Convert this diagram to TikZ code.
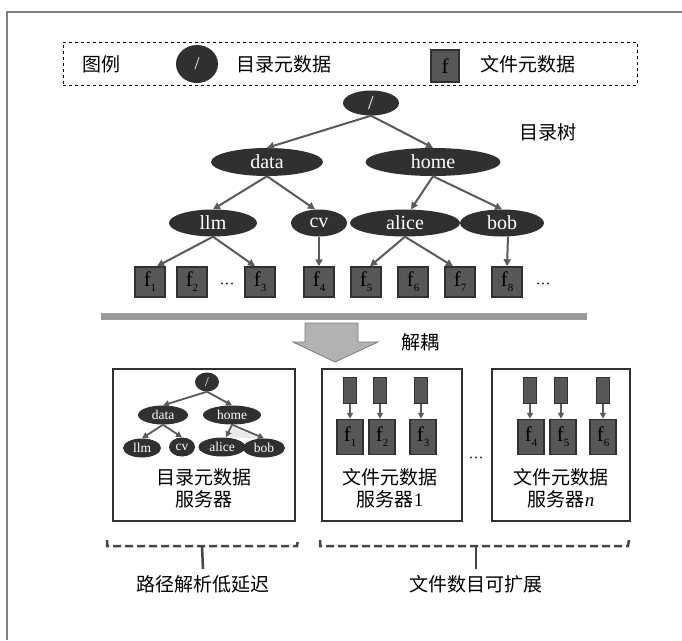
\documentclass[tikz,border=0pt]{standalone}
\usepackage{fontspec}
\setmainfont{Liberation Serif}
\newfontfamily\cjk{Noto Sans CJK SC}
\usetikzlibrary{shapes.geometric,arrows.meta,calc}
\definecolor{dark}{HTML}{303030}
\definecolor{fgray}{HTML}{575757}
\definecolor{egray}{HTML}{5A5A5A}
\definecolor{bargray}{HTML}{9A9A9A}
\definecolor{arrgray}{HTML}{B2B2B2}
\newcommand{\fsub}[1]{f{\fontsize{11}{11}\selectfont\raisebox{-5pt}{#1}}}
\newcommand{\mydots}{\tikz[baseline]{\foreach \i in {0,5,10} \fill (\i pt,2pt) circle (1.1pt);}}
\begin{document}
\begin{tikzpicture}[x=1pt,y=-1pt,
  dir/.style={ellipse, fill=dark, text=white, inner sep=0pt, minimum height=28, font=\fontsize{20}{20}\selectfont},
  sdir/.style={ellipse, fill=dark, text=white, inner sep=0pt, minimum height=19, font=\fontsize{13.5}{13.5}\selectfont},
  fbox/.style={draw=dark, line width=1.5pt, fill=fgray, minimum width=30, minimum height=30, inner sep=0pt, font=\fontsize{21}{21}\selectfont},
  sfbox/.style={draw=dark, line width=1.5pt, fill=fgray, minimum width=26, minimum height=35, inner sep=0pt, font=\fontsize{21}{21}\selectfont},
  urect/.style={draw=dark, line width=1pt, fill=fgray, minimum width=13, minimum height=26, inner sep=0pt},
  edge/.style={draw=egray, line width=2pt, -{Triangle[length=7pt,width=7pt]}},
  sedge/.style={draw=egray, line width=1.8pt, -{Triangle[length=6pt,width=6pt]}},
  srv/.style={draw=dark, line width=2.2pt, inner sep=0pt},
  lab/.style={font=\cjk\fontsize{19}{22}\selectfont, align=center, inner sep=0pt},
  brk/.style={draw=dark!90, line width=2.5pt, dash pattern=on 8pt off 4pt},
  dots/.style={inner sep=0pt, text=dark}
]
\useasboundingbox (0,0) rectangle (682,640);
\fill[white] (0,0) rectangle (682,640);
\draw[gray, line width=1.2pt] (7,640) -- (7,12) -- (682,12);

% legend
\node[draw=black, dashed, line width=1pt, minimum width=574, minimum height=43, inner sep=0pt] (legend) at (350,63.5) {};
\node[lab] (lgt) at (101,64) {图例};
\node[ellipse, fill=dark, text=white, minimum width=42, minimum height=38, inner sep=0pt, font=\fontsize{18}{18}\selectfont] (lgd) at (197,64) {/};
\node[lab] (lgdt) at (284,64) {目录元数据};
\node[fbox, minimum width=28, minimum height=32] (lgf) at (445,66) {f};
\node[lab] (lgft) at (528,64) {文件元数据};

% tree
\node[dir, minimum width=56, minimum height=25] (root) at (371,103) {/};
\node[dir, minimum width=112] (data) at (267,162) {data};
\node[dir, minimum width=135] (home) at (433,162) {home};
\node[dir, minimum width=88, minimum height=27] (llm) at (213,223) {llm};
\node[dir, minimum width=56, minimum height=27] (cv) at (319,223) {cv};
\node[dir, minimum width=110, minimum height=27] (alice) at (405,223) {alice};
\node[dir, minimum width=84, minimum height=27] (bob) at (502,223) {bob};
\node[lab] (tree) at (548,132) {目录树};

\node[fbox] (f1) at (150,282) {\fsub{1}};
\node[fbox] (f2) at (192,282) {\fsub{2}};
\node[dots] (d1) at (227,284) {\mydots};
\node[fbox] (f3) at (260,282) {\fsub{3}};
\node[fbox] (f4) at (319,282) {\fsub{4}};
\node[fbox] (f5) at (366,282) {\fsub{5}};
\node[fbox] (f6) at (413,282) {\fsub{6}};
\node[fbox] (f7) at (460,282) {\fsub{7}};
\node[fbox] (f8) at (507,282) {\fsub{8}};
\node[dots] (d2) at (543,284) {\mydots};

\draw[edge] (root.south) -- (data.north);
\draw[edge] (root.south) -- (home.north);
\draw[edge] (data.south) -- (llm.north);
\draw[edge] (data.south) -- ([xshift=-4]cv.north);
\draw[edge] (home.south) -- ([xshift=6]alice.north);
\draw[edge] (home.south) -- (bob.north);
\draw[edge] (llm.south) -- ([xshift=7]f1.north);
\draw[edge] (llm.south) -- ([xshift=-5]f3.north);
\draw[edge] (cv.south) -- (f4.north);
\draw[edge] (alice.south) -- ([xshift=4]f5.north);
\draw[edge] (alice.south) -- ([xshift=-7]f7.north);
\draw[edge] ([xshift=6]bob.south) -- (f8.north);

% bar and arrow
\fill[bargray] (101,313) rectangle (587,320);
\draw[bargray!80!black, line width=0.8pt, fill=arrgray] (305,323) -- (358,323) -- (358,342) -- (378,342) -- (335,362) -- (293,342) -- (305,342) -- cycle;
\node[lab] (dec) at (420,342) {解耦};

% server 1
\node[srv, minimum width=182, minimum height=152] (s1) at (204,445) {};
\node[sdir, minimum width=24] (sroot) at (207,382) {/};
\node[sdir, minimum width=50] (sdata) at (163,415) {data};
\node[sdir, minimum width=58] (shome) at (232,415) {home};
\node[sdir, minimum width=38] (sllm) at (142,448) {llm};
\node[sdir, minimum width=26] (scv) at (182,447) {cv};
\node[sdir, minimum width=47] (salice) at (222,447) {alice};
\node[sdir, minimum width=42] (sbob) at (264,448) {bob};
\fill[gray!18] ([yshift=-2]shome.south) -- ([xshift=8]salice.north) -- ([xshift=-4]sbob.north) -- cycle;
\draw[sedge] (sroot.south) -- (sdata.north);
\draw[sedge] (sroot.south) -- (shome.north);
\draw[sedge] (sdata.south) -- (sllm.north);
\draw[sedge] (sdata.south) -- (scv.north);
\draw[sedge] (shome.south) -- ([xshift=4]salice.north);
\draw[sedge] (shome.south) -- (sbob.north);
\node[lab] (s1t) at (204,488) {目录元数据\\服务器};

% server 2
\node[srv, minimum width=140, minimum height=152] (s2) at (392,445) {};
\node[urect] (u1) at (350,390) {};
\node[urect] (u2) at (380,390) {};
\node[urect] (u3) at (421,390) {};
\node[sfbox] (g1) at (350,437) {\fsub{1}};
\node[sfbox] (g2) at (382,437) {\fsub{2}};
\node[sfbox] (g3) at (423,437) {\fsub{3}};
\draw[sedge] (u1.south) -- (g1.north);
\draw[sedge] (u2.south) -- (u2.south |- g2.north);
\draw[sedge] (u3.south) -- (u3.south |- g3.north);
\node[lab] (s2t) at (390,488) {文件元数据\\服务器{\rmfamily 1}};

\node[dots] (d3) at (476,458) {\mydots};

% server n
\node[srv, minimum width=138, minimum height=152] (s3) at (561,445) {};
\node[urect] (u4) at (530,390) {};
\node[urect] (u5) at (561,390) {};
\node[urect] (u6) at (603,390) {};
\node[sfbox] (g4) at (531,437) {\fsub{4}};
\node[sfbox] (g5) at (563,437) {\fsub{5}};
\node[sfbox] (g6) at (603,437) {\fsub{6}};
\draw[sedge] (u4.south) -- (u4.south |- g4.north);
\draw[sedge] (u5.south) -- (u5.south |- g5.north);
\draw[sedge] (u6.south) -- (g6.north);
\node[lab] (s3t) at (561,488) {文件元数据\\服务器{\rmfamily\itshape n}};

% brackets
\node[lab] (b1t) at (203,584) {路径解析低延迟};
\node[lab] (b2t) at (476,584) {文件数目可扩展};
\coordinate (b1m) at (202,546);
\coordinate (b2m) at (476,546);
\draw[brk] (107,540) -- (107,546) -- (297,546) -- (298,540);
\draw[brk] (320,540) -- (320,546) -- (628,546) -- (629,540);
\draw[dark!90, line width=2.5pt] (b1m) -- ([yshift=6]b1t.north);
\draw[dark!90, line width=2.5pt] (b2m) -- ([yshift=6]b2t.north);
\end{tikzpicture}
\end{document}
